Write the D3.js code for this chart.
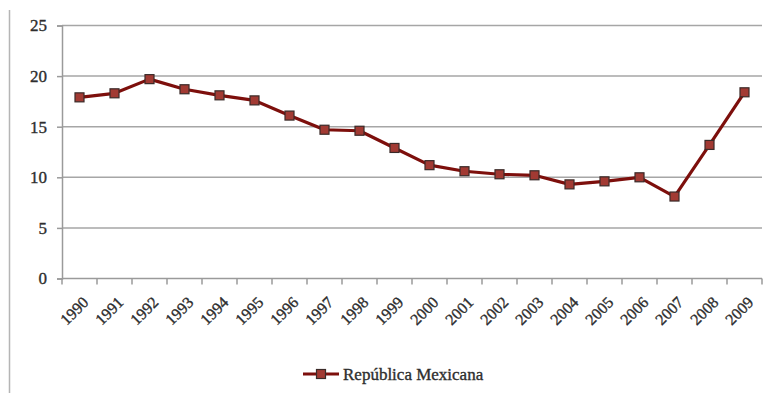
<!DOCTYPE html>
<html>
<head>
<meta charset="utf-8">
<script src="https://cdn.jsdelivr.net/npm/d3@7"></script>
<style>
  html, body { margin: 0; padding: 0; background: #fff; }
  svg { display: block; }
  svg text { font-family: "Liberation Serif", "DejaVu Serif", serif; fill: #2e2e2e; font-weight: normal;
             stroke: #2e2e2e; stroke-width: 0.35px; }
</style>
</head>
<body>
<svg id="chart" width="772" height="393"></svg>
<script>
// Series: República Mexicana, 1990–2009
const years = ["1990","1991","1992","1993","1994","1995","1996","1997","1998","1999",
               "2000","2001","2002","2003","2004","2005","2006","2007","2008","2009"];
const values = [17.9, 18.3, 19.7, 18.7, 18.1, 17.6, 16.1, 14.7, 14.6, 12.9,
                11.2, 10.6, 10.3, 10.2, 9.3, 9.6, 10.0, 8.1, 13.2, 18.4];
const yTicks = [0, 5, 10, 15, 20, 25];
const seriesName = "República Mexicana";

const svg = d3.select("#chart");
const m = { left: 62, right: 10, top: 25.5, bottom: 114.5 };
const W = 772, H = 393;
const FONT = 17;

const x = d3.scaleBand().domain(years).range([m.left, W - m.right]).paddingInner(0).paddingOuter(0);
const y = d3.scaleLinear().domain([0, 25]).range([H - m.bottom, m.top]);

// outer frame line at left
svg.append("line")
  .attr("x1", 9.5).attr("x2", 9.5).attr("y1", 10).attr("y2", H)
  .attr("stroke", "#b5b5b5").attr("stroke-width", 1.5);

// horizontal gridlines
svg.append("g")
  .selectAll("line")
  .data(yTicks.filter(d => d > 0))
  .join("line")
  .attr("x1", m.left).attr("x2", W - m.right)
  .attr("y1", d => y(d)).attr("y2", d => y(d))
  .attr("stroke", "#a6a6a6").attr("stroke-width", 1.5);

// y axis
const yAxis = svg.append("g")
  .attr("transform", `translate(${m.left},0)`)
  .call(d3.axisLeft(y).tickValues(yTicks).tickSize(5).tickPadding(10));
yAxis.select(".domain").attr("stroke", "#9a9a9a").attr("stroke-width", 1.5);
yAxis.selectAll(".tick line").attr("stroke", "#9a9a9a").attr("stroke-width", 1.5);
yAxis.selectAll("text").attr("font-size", FONT);

// x axis: ticks at category boundaries
const xAxisG = svg.append("g").attr("transform", `translate(0,${y(0)})`);
xAxisG.append("line")
  .attr("x1", m.left).attr("x2", W - m.right).attr("y1", 0).attr("y2", 0)
  .attr("stroke", "#9a9a9a").attr("stroke-width", 1.5);
const bounds = years.map(d => x(d)).concat([x(years[years.length - 1]) + x.bandwidth()]);
xAxisG.selectAll("line.tk")
  .data(bounds)
  .join("line").attr("class", "tk")
  .attr("x1", d => d).attr("x2", d => d).attr("y1", 0).attr("y2", 6)
  .attr("stroke", "#9a9a9a").attr("stroke-width", 1.5);
xAxisG.selectAll("text")
  .data(years)
  .join("text")
  .attr("transform", d => `translate(${x(d) + x.bandwidth() / 2 + 6},${21}) rotate(-45)`)
  .attr("text-anchor", "end")
  .attr("dy", "0.35em")
  .attr("font-size", 16)
  .text(d => d);

// line
const line = d3.line()
  .x((d, i) => x(years[i]) + x.bandwidth() / 2)
  .y(d => y(d));
svg.append("path")
  .datum(values)
  .attr("fill", "none")
  .attr("stroke", "#7d0f0c")
  .attr("stroke-width", 3.2)
  .attr("stroke-linejoin", "round")
  .attr("d", line);

// markers
const ms = 9;
svg.append("g")
  .selectAll("rect")
  .data(values)
  .join("rect")
  .attr("x", (d, i) => x(years[i]) + x.bandwidth() / 2 - ms / 2)
  .attr("y", d => y(d) - ms / 2)
  .attr("width", ms).attr("height", ms)
  .attr("fill", "#a23a33")
  .attr("stroke", "#3a2a28").attr("stroke-width", 1.2);

// legend
const lg = svg.append("g").attr("transform", "translate(303,374)");
lg.append("line").attr("x1", 0).attr("x2", 36).attr("y1", 0).attr("y2", 0)
  .attr("stroke", "#7d0f0c").attr("stroke-width", 3.2);
lg.append("rect").attr("x", 18 - ms / 2).attr("y", -ms / 2).attr("width", ms).attr("height", ms)
  .attr("fill", "#a23a33").attr("stroke", "#3a2a28").attr("stroke-width", 1.2);
lg.append("text").attr("x", 40).attr("y", 0).attr("dy", "0.35em")
  .attr("font-size", FONT).text(seriesName);
</script>
</body>
</html>
